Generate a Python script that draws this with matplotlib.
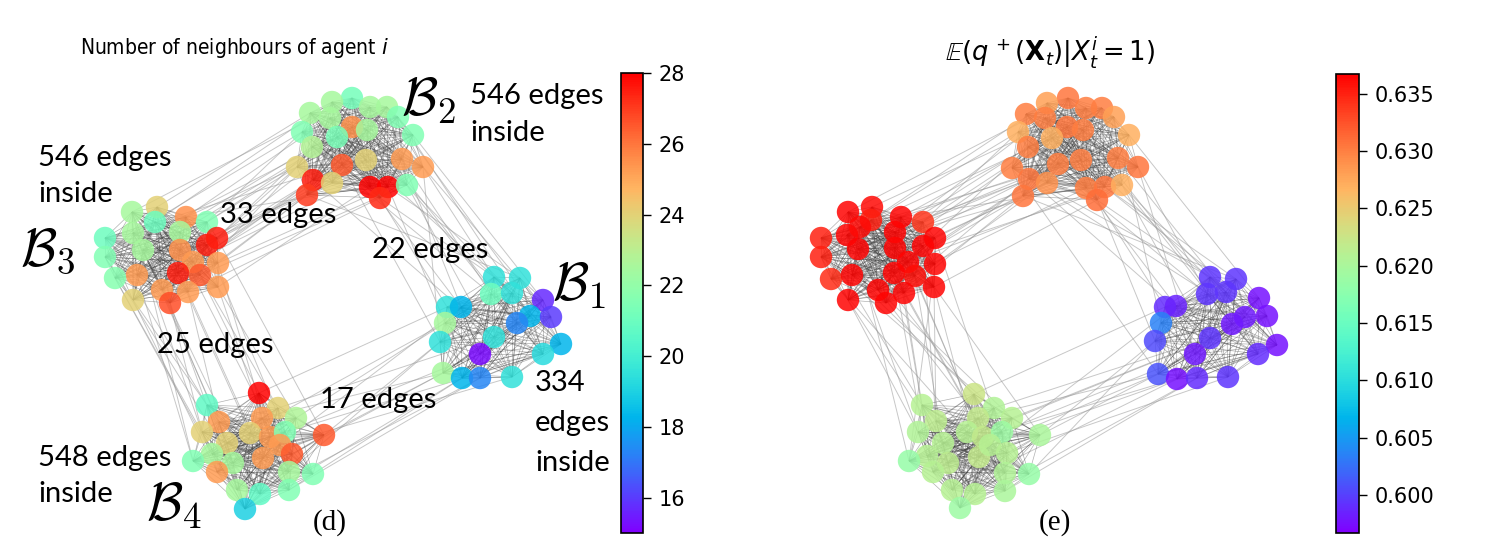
import itertools
import matplotlib
matplotlib.use("Agg")
import matplotlib.pyplot as plt
from matplotlib.collections import LineCollection
from matplotlib.colors import Normalize
from matplotlib.cm import ScalarMappable

# ---------------- data: layout positions (x, y) and node values ----------------
# Panel (d): number of neighbours of each agent
d_B2_x = [352, 332, 370, 387, 310, 330, 398, 352, 367, 302, 337, 413, 312, 297, 342, 366, 402, 423, 313, 332, 307, 370, 388, 407, 380]
d_B2_y = [98, 102, 107, 107, 113, 118, 117, 127, 130, 132, 137, 135, 147, 167, 165, 160, 159, 167, 180, 183, 195, 187, 187, 185, 198]
d_B2_v = [21.2, 22.5, 22.5, 22.5, 22.5, 22.5, 21.5, 25.5, 22.5, 21.5, 21.3, 21.5, 22.8, 24, 26.5, 24, 25.3, 25.3, 27.5, 24, 27, 28, 28, 21.5, 27.3]

d_B3_x = [132, 157, 155, 186, 207, 105, 133, 180, 217, 207, 105, 143, 180, 193, 218, 137, 178, 200, 115, 162, 188, 218, 133, 170]
d_B3_y = [212, 207, 222, 217, 222, 238, 233, 232, 238, 245, 257, 250, 250, 262, 263, 275, 273, 275, 278, 290, 292, 287, 300, 303]
d_B3_v = [22.5, 24, 21, 25.5, 21.5, 21, 22.5, 22.5, 27.5, 27.5, 21.5, 22.5, 25.5, 25.3, 25.3, 25.3, 27.5, 26.5, 21.7, 25.3, 25.3, 25.3, 24, 26.7]

d_B1_x = [494, 520, 491, 512, 447, 461, 543, 530, 551, 445, 517, 440, 494, 561, 480, 543, 443, 462, 480, 512]
d_B1_y = [277, 278, 294, 293, 307, 307, 300, 316, 317, 323, 323, 342, 337, 344, 354, 354, 373, 378, 378, 377]
d_B1_v = [19.5, 19.5, 21, 19.5, 19.5, 18.3, 15.7, 18.3, 16, 22.5, 17.3, 19.5, 19.5, 18.3, 15.2, 19.3, 22.5, 18.3, 17.3, 19.5]

d_B4_x = [259, 207, 278, 219, 262, 296, 202, 250, 270, 285, 324, 227, 280, 212, 292, 263, 193, 233, 217, 289, 313, 237, 260, 289, 245]
d_B4_y = [393, 405, 408, 422, 418, 418, 432, 433, 437, 432, 435, 443, 445, 454, 454, 458, 461, 463, 472, 472, 474, 490, 494, 490, 509]
d_B4_v = [28, 20.7, 24, 25.3, 25.3, 22.7, 24, 24, 25.3, 21.5, 26.5, 24, 25.3, 22.5, 26.5, 25.3, 21.5, 22.5, 25.3, 22.5, 21.5, 22.5, 20.7, 21.5, 19]

# Panel (e): E(q+(X_t) | X_t^i = 1)
e_B2_x = [1068, 1047, 1026, 1045, 1086, 1102, 1114, 1067, 1083, 1018, 1052, 1129, 1028, 1058, 1081, 1118, 1138, 1012, 1029, 1047, 1023, 1086, 1105, 1122, 1097]
e_B2_y = [98, 103, 114, 118, 108, 108, 117, 127, 130, 132, 138, 135, 147, 164, 160, 158, 167, 168, 179, 183, 196, 188, 187, 185, 200]
e_B2_v = [0.6305, 0.628, 0.630, 0.630, 0.630, 0.630, 0.628, 0.6305, 0.630, 0.627, 0.627, 0.627, 0.630, 0.630, 0.630, 0.630, 0.6305, 0.630, 0.6305, 0.629, 0.6305, 0.630, 0.6305, 0.627, 0.631]

e_B3_x = [848, 872, 871, 901, 923, 821, 847, 860, 895, 858, 895, 923, 935, 821, 908, 935, 831, 852, 894, 915, 934, 878, 904, 848, 886]
e_B3_y = [212, 207, 220, 217, 222, 238, 235, 227, 232, 249, 248, 246, 238, 257, 262, 264, 279, 275, 273, 276, 287, 290, 293, 300, 303]
e_B3_v = [0.6365, 0.6362, 0.635, 0.6365, 0.634, 0.635, 0.6365, 0.6362, 0.6365, 0.6365, 0.6365, 0.6365, 0.6365, 0.635, 0.6365, 0.6365, 0.6345, 0.6365, 0.6365, 0.636, 0.6365, 0.6365, 0.6365, 0.6365, 0.6365]

e_B1_x = [1210, 1236, 1207, 1226, 1165, 1176, 1259, 1161, 1245, 1267, 1232, 1155, 1210, 1277, 1195, 1258, 1158, 1177, 1197, 1228]
e_B1_y = [277, 279, 294, 292, 307, 306, 298, 323, 317, 316, 324, 341, 338, 345, 354, 354, 374, 379, 378, 377]
e_B1_v = [0.5995, 0.5995, 0.5995, 0.5995, 0.599, 0.5985, 0.5975, 0.6035, 0.598, 0.5975, 0.598, 0.6005, 0.5995, 0.5975, 0.598, 0.599, 0.601, 0.5975, 0.599, 0.5995]

e_B4_x = [974, 922, 994, 936, 978, 1012, 918, 967, 983, 1002, 1040, 943, 1007, 927, 948, 979, 909, 933, 1005, 1029, 952, 975, 1005, 960, 990]
e_B4_y = [394, 405, 408, 421, 418, 418, 432, 432, 437, 432, 435, 443, 453, 456, 463, 457, 461, 472, 473, 474, 490, 494, 491, 508, 445]
e_B4_v = [0.6225, 0.621, 0.6205, 0.6215, 0.622, 0.621, 0.6205, 0.621, 0.622, 0.619, 0.620, 0.621, 0.621, 0.621, 0.6215, 0.622, 0.6185, 0.621, 0.6205, 0.6185, 0.621, 0.621, 0.620, 0.619, 0.621]

# inter-community edges (index in community a, index in community b)
edges_B2_B3 = [(13, 8), (13, 3), (18, 9), (20, 14), (9, 4), (4, 1), (12, 8), (19, 12), (14, 13), (21, 21), (10, 7),
               (5, 3), (20, 17), (18, 16), (22, 14), (0, 0), (1, 2), (24, 20), (13, 23), (15, 9), (7, 4), (9, 6),
               (12, 11), (20, 22), (19, 15), (14, 5), (3, 8), (18, 19), (16, 13), (21, 3), (10, 10), (13, 18), (23, 17)]
edges_B2_B1 = [(17, 0), (22, 1), (23, 3), (16, 2), (24, 4), (21, 5), (11, 6), (6, 7), (17, 8), (22, 9), (23, 10),
               (14, 11), (18, 12), (3, 13), (24, 0), (16, 14), (20, 1), (8, 15), (12, 2), (17, 16), (23, 19), (15, 3)]
edges_B3_B4 = [(22, 1), (23, 6), (18, 13), (20, 3), (19, 11), (21, 4), (15, 16), (16, 7), (17, 0), (10, 17), (14, 8),
               (13, 2), (22, 18), (23, 21), (11, 3), (12, 12), (5, 1), (9, 9), (20, 15), (18, 24), (8, 10), (6, 6),
               (19, 22), (21, 5), (0, 16)]
edges_B4_B1 = [(10, 11), (14, 16), (5, 9), (20, 17), (0, 4), (2, 12), (9, 14), (23, 18), (12, 19), (19, 11),
               (10, 16), (8, 15), (24, 17), (15, 5), (4, 13), (22, 18), (16, 9)]

d_ticks = [16, 18, 20, 22, 24, 26, 28]
d_range = (15, 28)
e_ticks = [0.600, 0.605, 0.610, 0.615, 0.620, 0.625, 0.630, 0.635]
e_range = (0.5967, 0.6367)

d_title = "Number of neighbours of agent $i$"
e_title = r"$\mathbb{E}(q^{\,+}(\mathbf{X}_t)|X_t^i=1)$"

# ---------------- figure ----------------
W, H = 1490, 549
fig = plt.figure(figsize=(W / 100, H / 100), dpi=100)
ax = fig.add_axes([0, 0, 1, 1])
ax.set_xlim(0, W)
ax.set_ylim(H, 0)
ax.axis("off")

cmap = plt.get_cmap("rainbow")


def draw_network(comms, norm):
    segs_in = []
    for name, (xs, ys, vs) in comms.items():
        for i, j in itertools.combinations(range(len(xs)), 2):
            segs_in.append([(xs[i], ys[i]), (xs[j], ys[j])])
    segs_out = []
    for (a, b, elist) in [("B2", "B3", edges_B2_B3), ("B2", "B1", edges_B2_B1),
                          ("B3", "B4", edges_B3_B4), ("B4", "B1", edges_B4_B1)]:
        xa, ya, _ = comms[a]
        xb, yb, _ = comms[b]
        for i, j in elist:
            segs_out.append([(xa[i], ya[i]), (xb[j], yb[j])])
    ax.add_collection(LineCollection(segs_out, colors="#9a9a9a", linewidths=0.7, alpha=0.55, zorder=1))
    ax.add_collection(LineCollection(segs_in, colors="#333333", linewidths=0.5, alpha=0.38, zorder=1))
    for name, (xs, ys, vs) in comms.items():
        ax.scatter(xs, ys, c=vs, cmap=cmap, norm=norm, s=260, alpha=0.85,
                   edgecolors="none", zorder=2)


norm_d = Normalize(*d_range)
norm_e = Normalize(*e_range)
draw_network({"B2": (d_B2_x, d_B2_y, d_B2_v), "B3": (d_B3_x, d_B3_y, d_B3_v),
              "B1": (d_B1_x, d_B1_y, d_B1_v), "B4": (d_B4_x, d_B4_y, d_B4_v)}, norm_d)
draw_network({"B2": (e_B2_x, e_B2_y, e_B2_v), "B3": (e_B3_x, e_B3_y, e_B3_v),
              "B1": (e_B1_x, e_B1_y, e_B1_v), "B4": (e_B4_x, e_B4_y, e_B4_v)}, norm_e)

# titles
fig.text(234 / W, 1 - 48 / H, d_title, ha="center", va="center", fontsize=15,
         family="DejaVu Sans", fontstretch="condensed")
fig.text(1050 / W, 1 - 52 / H, e_title, ha="center", va="center", fontsize=18.5, family="DejaVu Sans")

# annotations
ann_font = dict(family="Lato", fontsize=21, color="black", va="center", ha="left", zorder=5)
for txt, x, y in [("546 edges", 470, 96), ("inside", 470, 133),
                  ("546 edges", 38, 158), ("inside", 38, 194),
                  ("33 edges", 220, 215), ("22 edges", 372, 250),
                  ("25 edges", 157, 345), ("17 edges", 320, 400),
                  ("334", 535, 383), ("edges", 535, 423), ("inside", 535, 463),
                  ("548 edges", 38, 458), ("inside", 38, 494)]:
    ax.text(x, y, txt, **ann_font)

for lab, x, y in [(r"$\mathcal{B}_2$", 401, 100), (r"$\mathcal{B}_3$", 20, 250),
                  (r"$\mathcal{B}_1$", 552, 285), (r"$\mathcal{B}_4$", 146, 505)]:
    ax.text(x, y, lab, fontsize=38, math_fontfamily="cm", va="center", ha="left", zorder=5)

ax.text(330, 523, "(d)", family="Liberation Serif", fontsize=21, ha="center", va="center")
ax.text(1055, 523, "(e)", family="Liberation Serif", fontsize=21, ha="center", va="center")

# colorbars
cax_d = fig.add_axes([621 / W, 1 - 533 / H, 22 / W, 460 / H])
cb_d = fig.colorbar(ScalarMappable(norm=norm_d, cmap=cmap), cax=cax_d)
cb_d.set_ticks(d_ticks)
cb_d.ax.tick_params(labelsize=15, length=6, width=1, pad=5)
cb_d.outline.set_linewidth(1.2)

cax_e = fig.add_axes([1336 / W, 1 - 533 / H, 23 / W, 459 / H])
cb_e = fig.colorbar(ScalarMappable(norm=norm_e, cmap=cmap), cax=cax_e)
cb_e.set_ticks(e_ticks)
cb_e.set_ticklabels([f"{t:.3f}" for t in e_ticks])
cb_e.ax.tick_params(labelsize=15, length=6, width=1, pad=5)
cb_e.outline.set_linewidth(1.2)

fig.savefig("out.png", dpi=100)
